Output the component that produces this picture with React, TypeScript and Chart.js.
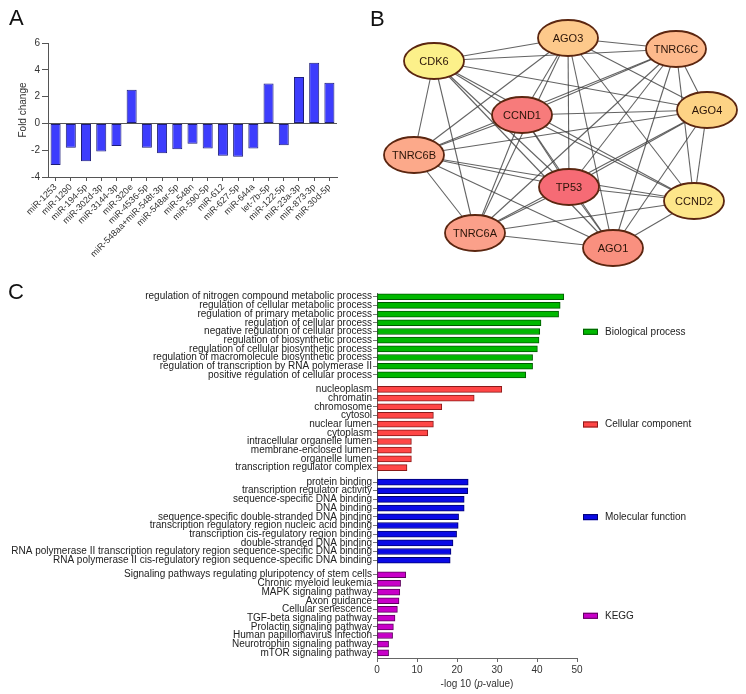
import React, { useEffect, useRef } from "react";
import { Chart, registerables } from "chart.js";

Chart.register(...registerables);

const FONT = "'Liberation Sans', Arial, Helvetica, sans-serif";

// ---------------- Panel A data ----------------
const mirnaLabels = [
  "miR-1253", "miR-1290", "miR-194-5p", "miR-302d-3p", "miR-3144-3p", "miR-320e",
  "miR-4536-5p", "miR-548aa+miR-548t-3p", "miR-548ar-5p", "miR-548n", "miR-590-5p",
  "miR-612", "miR-627-5p", "miR-644a", "let-7b-5p", "miR-122-5p", "miR-23a-3p",
  "miR-873-3p", "miR-30d-5p",
];
const foldChange = [
  -3.1, -1.82, -2.82, -2.1, -1.68, 2.52, -1.82, -2.22, -1.92, -1.52, -1.88,
  -2.42, -2.48, -1.88, 2.97, -1.63, 3.47, 4.53, 3.03,
];

// ---------------- Panel B data ----------------
const geneNames = ["AGO3", "TNRC6C", "CDK6", "CCND1", "AGO4", "TNRC6B", "TP53", "CCND2", "TNRC6A", "AGO1"];
const geneX = [568, 676, 434, 522, 707, 414, 569, 694, 475, 613];
const geneY = [38, 49, 61, 115, 110, 155, 187, 201, 233, 248];
const geneColors = [
  "#fdc98b", "#fdb98c", "#fcf08a", "#f77b7b", "#fdd385",
  "#fca98a", "#f66b75", "#fde68a", "#fba08a", "#f9907f",
];

// ---------------- Panel C data ----------------
const bpTerms = [
  "regulation of nitrogen compound metabolic process",
  "regulation of cellular metabolic process",
  "regulation of primary metabolic process",
  "regulation of cellular process",
  "negative regulation of cellular process",
  "regulation of biosynthetic process",
  "regulation of cellular biosynthetic process",
  "regulation of macromolecule biosynthetic process",
  "regulation of transcription by RNA polymerase II",
  "positive regulation of cellular process",
];
const bpValues = [46.7, 45.8, 45.4, 41.0, 40.7, 40.5, 40.1, 38.9, 38.9, 37.2];

const ccTerms = [
  "nucleoplasm", "chromatin", "chromosome", "cytosol", "nuclear lumen", "cytoplasm",
  "intracellular organelle lumen", "membrane-enclosed lumen", "organelle lumen",
  "transcription regulator complex",
];
const ccValues = [31.2, 24.3, 16.2, 14.1, 14.1, 12.7, 8.6, 8.6, 8.6, 7.5];

const mfTerms = [
  "protein binding",
  "transcription regulator activity",
  "sequence-specific DNA binding",
  "DNA binding",
  "sequence-specific double-stranded DNA binding",
  "transcription regulatory region nucleic acid binding",
  "transcription cis-regulatory region binding",
  "double-stranded DNA binding",
  "RNA polymerase II transcription regulatory region sequence-specific DNA binding",
  "RNA polymerase II cis-regulatory region sequence-specific DNA binding",
];
const mfValues = [22.8, 22.7, 21.8, 21.8, 20.4, 20.3, 19.9, 19.0, 18.5, 18.3];

const keggTerms = [
  "Signaling pathways regulating pluripotency of stem cells",
  "Chronic myeloid leukemia",
  "MAPK signaling pathway",
  "Axon guidance",
  "Cellular senescence",
  "TGF-beta signaling pathway",
  "Prolactin signaling pathway",
  "Human papillomavirus infection",
  "Neurotrophin signaling pathway",
  "mTOR signaling pathway",
];
const keggValues = [7.2, 5.9, 5.7, 5.5, 5.1, 4.5, 4.1, 3.9, 2.9, 2.9];

const groupNames = ["Biological process", "Cellular component", "Molecular function", "KEGG"];
const groupTerms = [bpTerms, ccTerms, mfTerms, keggTerms];
const groupValues = [bpValues, ccValues, mfValues, keggValues];
const groupFill = ["#00b800", "#ff4646", "#0a0ae6", "#c800c8"];
const groupBorder = ["#005a00", "#8a1a1a", "#000070", "#5e005e"];
const xTicksC = [0, 10, 20, 30, 40, 50];

// layout helpers (not data)
const GROUP_STEP = 10.67;
const rowPos = (g: number, i: number) => g * GROUP_STEP + i;
const legendShift = [-4, -4, -4, 2];

// ---------------- Configs ----------------
const makeA = (): any => ({
  type: "bar",
  data: {
    labels: mirnaLabels,
    datasets: [
      {
        data: foldChange,
        backgroundColor: "#3d3dfd",
        borderColor: "#1d1d78",
        borderWidth: 1,
        borderSkipped: false,
        barPercentage: 0.66,
        categoryPercentage: 1,
      },
    ],
  },
  options: {
    responsive: false,
    animation: false,
    layout: { padding: { top: 43, right: 13, left: 0, bottom: 0 } },
    plugins: { legend: { display: false }, tooltip: { enabled: false } },
    scales: {
      x: {
        grid: { display: true, drawOnChartArea: false, offset: false, tickLength: 4, color: "#555" },
        border: { color: "#555" },
        ticks: {
          autoSkip: false,
          minRotation: 45,
          maxRotation: 45,
          font: { family: FONT, size: 9 },
          color: "#333",
          padding: 1,
        },
        afterFit: (s: any) => {
          s.height = 103;
        },
      },
      y: {
        min: -4,
        max: 6,
        ticks: { stepSize: 2, font: { family: FONT, size: 10 }, color: "#333", padding: 2 },
        grid: {
          color: (c: any) => (c.tick && c.tick.value === 0 ? "#555" : "rgba(0,0,0,0)"),
          tickColor: "#555",
          tickLength: 6,
        },
        border: { color: "#555" },
        title: {
          display: true,
          text: "Fold change",
          font: { family: FONT, size: 10 },
          color: "#333",
          padding: { top: 17, bottom: 0 },
        },
        afterFit: (s: any) => {
          s.width = 48;
        },
      },
    },
  },
});

const nodePlugin = {
  id: "nodes",
  afterDatasetsDraw(chart: any) {
    const { ctx, scales } = chart;
    geneNames.forEach((name, i) => {
      const px = scales.x.getPixelForValue(geneX[i]);
      const py = scales.y.getPixelForValue(geneY[i]);
      ctx.save();
      ctx.beginPath();
      ctx.ellipse(px, py, 30, 18, 0, 0, Math.PI * 2);
      ctx.fillStyle = geneColors[i];
      ctx.fill();
      ctx.lineWidth = 1.8;
      ctx.strokeStyle = "#5b2610";
      ctx.stroke();
      ctx.fillStyle = "#2a1408";
      ctx.font = `11px ${FONT}`;
      ctx.textAlign = "center";
      ctx.textBaseline = "middle";
      ctx.fillText(name, px, py + 0.5);
      ctx.restore();
    });
  },
};

const makeB = (): any => {
  const datasets: any[] = [];
  for (let i = 0; i < geneNames.length; i++) {
    for (let j = i + 1; j < geneNames.length; j++) {
      datasets.push({
        data: [
          { x: geneX[i], y: geneY[i] },
          { x: geneX[j], y: geneY[j] },
        ],
        showLine: true,
        pointRadius: 0,
        borderColor: "rgba(60,60,60,0.8)",
        borderWidth: 1.1,
      });
    }
  }
  return {
    type: "scatter",
    data: { datasets },
    options: {
      responsive: false,
      animation: false,
      layout: { padding: 0 },
      plugins: { legend: { display: false }, tooltip: { enabled: false } },
      scales: {
        x: { type: "linear", display: false, min: 360, max: 746 },
        y: { type: "linear", display: false, min: 0, max: 275, reverse: true },
      },
    },
    plugins: [nodePlugin],
  };
};

const legendPlugin = {
  id: "groupLegend",
  afterDraw(chart: any) {
    const { ctx, chartArea, scales } = chart;
    groupNames.forEach((name, g) => {
      const cy = scales.y.getPixelForValue(rowPos(g, 4.5)) + legendShift[g];
      const bx = chartArea.right + 6;
      ctx.save();
      ctx.fillStyle = groupFill[g];
      ctx.fillRect(bx, cy - 3, 15, 6);
      ctx.strokeStyle = groupBorder[g];
      ctx.lineWidth = 1;
      ctx.strokeRect(bx + 0.5, cy - 2.5, 14, 5);
      ctx.fillStyle = "#222";
      ctx.font = `10px ${FONT}`;
      ctx.textAlign = "left";
      ctx.textBaseline = "middle";
      ctx.fillText(name, bx + 22, cy);
      ctx.restore();
    });
  },
};

const makeC = (): any => {
  const allTerms: string[] = [];
  const allPos: number[] = [];
  groupTerms.forEach((terms, g) =>
    terms.forEach((t, i) => {
      allTerms.push(t);
      allPos.push(rowPos(g, i));
    })
  );
  return {
    type: "bar",
    data: {
      datasets: groupValues.map((vals, g) => ({
        label: groupNames[g],
        data: vals.map((v, i) => ({ x: v, y: rowPos(g, i) })),
        backgroundColor: groupFill[g],
        borderColor: groupBorder[g],
        borderWidth: 1,
        borderSkipped: false,
        barThickness: 6,
        grouped: false,
      })),
    },
    options: {
      indexAxis: "y",
      responsive: false,
      animation: false,
      layout: { padding: { top: 7, right: 169, left: 0, bottom: 6 } },
      plugins: { legend: { display: false }, tooltip: { enabled: false } },
      scales: {
        x: {
          type: "linear",
          min: 0,
          max: 50,
          afterBuildTicks: (s: any) => {
            s.ticks = xTicksC.map((v) => ({ value: v }));
          },
          ticks: { font: { family: FONT, size: 10 }, color: "#333", padding: 2 },
          grid: { display: true, drawOnChartArea: false, tickLength: 4, color: "#666" },
          border: { color: "#666" },
          afterFit: (s: any) => {
            s.height = 30;
          },
        },
        y: {
          type: "linear",
          offset: false,
          reverse: true,
          min: -0.43,
          max: 41.6,
          afterBuildTicks: (s: any) => {
            s.ticks = allPos.map((v) => ({ value: v }));
          },
          ticks: {
            autoSkip: false,
            font: { family: FONT, size: 10 },
            color: "#222",
            padding: 1,
            callback: (_v: any, idx: number) => allTerms[idx],
          },
          grid: { display: true, drawOnChartArea: false, offset: false, tickLength: 4, color: "#777" },
          border: { color: "#666" },
          afterFit: (s: any) => {
            s.width = 377;
          },
        },
      },
    },
    plugins: [legendPlugin],
  };
};

function ChartCanvas(props: { left: number; top: number; width: number; height: number; make: () => any }) {
  const ref = useRef<HTMLCanvasElement>(null);
  useEffect(() => {
    const chart = new Chart(ref.current as HTMLCanvasElement, props.make());
    return () => chart.destroy();
  }, []);
  return (
    <canvas
      ref={ref}
      width={props.width}
      height={props.height}
      style={{ position: "absolute", left: props.left, top: props.top, width: props.width, height: props.height }}
    />
  );
}

const letterStyle = (left: number, top: number): React.CSSProperties => ({
  position: "absolute",
  left,
  top,
  font: `22px ${FONT}`,
  color: "#111",
});

export default function App() {
  return (
    <div style={{ position: "absolute", left: 0, top: 0, width: 746, height: 694, background: "#fff", overflow: "hidden" }}>
      <ChartCanvas left={0} top={0} width={350} height={280} make={makeA} />
      <ChartCanvas left={360} top={0} width={386} height={275} make={makeB} />
      <ChartCanvas left={0} top={286} width={746} height={408} make={makeC} />
      <div style={letterStyle(9, 5)}>A</div>
      <div style={letterStyle(370, 6)}>B</div>
      <div style={letterStyle(8, 279)}>C</div>
      <div
        style={{
          position: "absolute",
          left: 477,
          top: 683,
          transform: "translate(-50%, -50%)",
          font: `10px ${FONT}`,
          color: "#333",
          whiteSpace: "nowrap",
        }}
      >
        -log 10 (<i>p</i>-value)
      </div>
    </div>
  );
}
